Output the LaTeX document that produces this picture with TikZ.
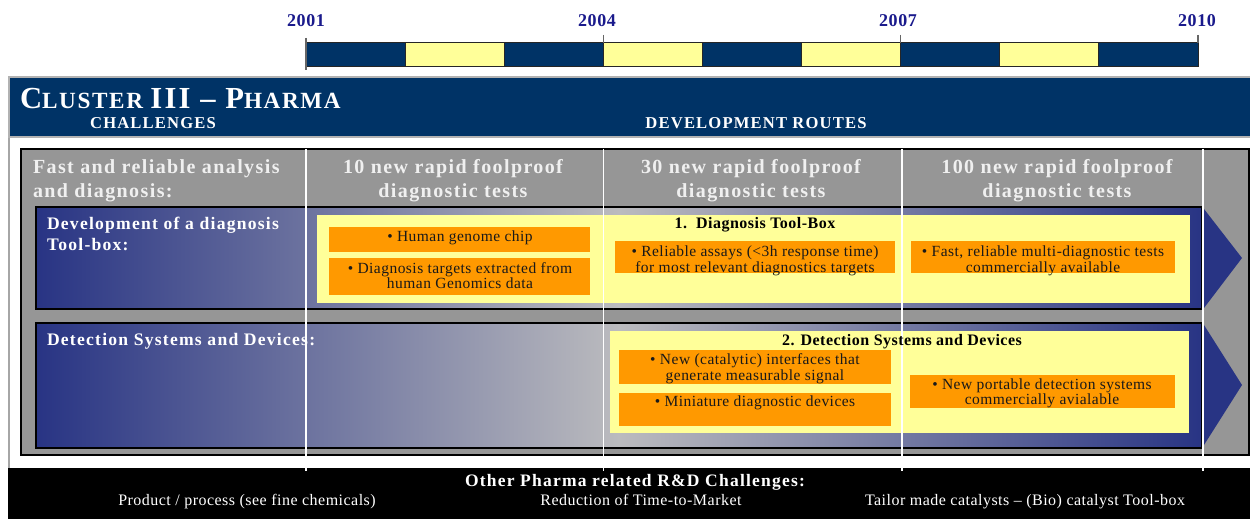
\documentclass[tikz,border=0pt]{standalone}
\usepackage{fontspec}
\setmainfont{Liberation Serif}
\newfontfamily\lsA{Liberation Serif}[LetterSpace=7]
\newfontfamily\lsB{Liberation Serif}[LetterSpace=3]
\definecolor{hdrnavy}{HTML}{003366}
\definecolor{rownavy}{HTML}{283484}
\definecolor{midgray}{HTML}{BBBBBE}
\definecolor{panelgray}{HTML}{969696}
\definecolor{yel}{HTML}{FFFF99}
\definecolor{org}{HTML}{FF9900}
\definecolor{yearblue}{HTML}{1A1A8C}
\definecolor{headtxt}{HTML}{F0F0F0}
\begin{document}
\begin{tikzpicture}[x=0.5pt,y=-0.5pt,
  txt/.style={inner sep=0pt, outer sep=0pt, anchor=base},
  yr/.style={txt, text=yearblue, font={\lsB\bfseries\fontsize{9}{11}\selectfont}},
  captxt/.style={txt, text=white, font={\lsA\bfseries\fontsize{8.3}{10}\selectfont}},
  hdr/.style={txt, text=headtxt, font={\lsA\bfseries\fontsize{10}{12}\selectfont}},
  rowlbl/.style={txt, text=white, font={\lsA\bfseries\fontsize{8.8}{10.5}\selectfont}},
  ytitle/.style={txt, text=black, font={\lsB\bfseries\fontsize{8}{10}\selectfont}},
  otxt/.style={txt, align=center, text=black!90, font={\lsB\fontsize{7.75}{7.9}\selectfont}},
  btxt/.style={txt, text=white, font={\lsB\fontsize{8}{10}\selectfont}},
  seg/.style={draw=black!85, line width=0.5pt},
  obox/.style={fill=org},
  vline/.style={white, line width=0.6pt},
  tickline/.style={draw=black!60, line width=0.6pt}
]
\useasboundingbox (0,0) rectangle (1250,519);
\fill[white] (0,0) rectangle (1250,519);

% ---- timeline bar ----
\filldraw[seg, fill=hdrnavy] (306,43) rectangle (405.1,67);
\filldraw[seg, fill=yel] (405.1,43) rectangle (504.2,67);
\filldraw[seg, fill=hdrnavy] (504.2,43) rectangle (603.3,67);
\filldraw[seg, fill=yel] (603.3,43) rectangle (702.4,67);
\filldraw[seg, fill=hdrnavy] (702.4,43) rectangle (801.6,67);
\filldraw[seg, fill=yel] (801.6,43) rectangle (900.7,67);
\filldraw[seg, fill=hdrnavy] (900.7,43) rectangle (999.8,67);
\filldraw[seg, fill=yel] (999.8,43) rectangle (1098.9,67);
\filldraw[seg, fill=hdrnavy] (1098.9,43) rectangle (1198,67);
\draw[tickline] (306,38) -- (306,70);
\draw[tickline] (603.3,35) -- (603.3,43);
\draw[tickline] (900.7,35) -- (900.7,43);
\draw[tickline] (1198,35) -- (1198,43);
\node[yr] (y2001) at (306,27) {2001};
\node[yr] (y2004) at (597,27) {2004};
\node[yr] (y2007) at (898,27) {2007};
\node[yr] (y2010) at (1197,27) {2010};

% ---- outer frame and header ----
\draw[gray!70, line width=1pt] (9,77) -- (9,468);
\filldraw[fill=hdrnavy, draw=gray!60, line width=0.6pt] (9,77) rectangle (1251,137);
\node[txt, anchor=base west, text=white, font={\lsA\bfseries}] (title) at (20,109)
  {\fontsize{15.3}{18}\selectfont C\fontsize{11.6}{14}\selectfont LUSTER \fontsize{15.3}{18}\selectfont III – P\fontsize{11.6}{14}\selectfont HARMA};
\node[captxt] (chal) at (153,129) {CHALLENGES};
\node[captxt] (routes) at (756,129) {DEVELOPMENT ROUTES};

% ---- gray panel ----
\filldraw[fill=panelgray, draw=black, line width=0.6pt] (21,149) rectangle (1249,455);

% ---- rows ----
\draw[black, line width=0.6pt, left color=rownavy, right color=rownavy, middle color=midgray] (36,207) rectangle (1202,309);
\draw[black, line width=0.6pt, left color=rownavy, right color=rownavy, middle color=midgray] (36,323) rectangle (1202,448);
\fill[rownavy] (1204,209) -- (1242,258) -- (1204,308) -- cycle;
\fill[rownavy] (1204,325) -- (1242,385) -- (1204,445) -- cycle;

% ---- yellow areas ----
\fill[yel] (317,215) rectangle (1190,303);
\fill[yel] (610,331) rectangle (1189,433);

% ---- orange boxes ----
\fill[obox] (329,227) rectangle (590,252);
\fill[obox] (329,258) rectangle (590,295);
\fill[obox] (615,241) rectangle (895,273);
\fill[obox] (911,241) rectangle (1175,273);
\fill[obox] (619,350) rectangle (891,384);
\fill[obox] (619,393) rectangle (891,426);
\fill[obox] (910,375) rectangle (1175,408);

% ---- black bottom bar ----
\fill[black] (8,468) rectangle (1250,519);

% ---- white year lines ----
\draw[vline] (306,149) -- (306,471);
\draw[vline] (603.3,149) -- (603.3,471);
\draw[vline] (902,149) -- (902,471);
\draw[vline] (1203,149) -- (1203,471);

% ---- header row texts (base = last line) ----
\node[hdr, anchor=base west, align=left] (fast) at (33,198) {Fast and reliable analysis\\and diagnosis:};
\node[hdr, align=center] (h10) at (453,198) {10 new rapid foolproof\\diagnostic tests};
\node[hdr, align=center] (h30) at (751,198) {30 new rapid foolproof\\diagnostic tests};
\node[hdr, align=center] (h100) at (1057,198) {100 new rapid foolproof\\diagnostic tests};

% ---- row labels ----
\node[rowlbl, anchor=base west, align=left] (dev) at (47,251) {Development of a diagnosis\\Tool-box:};
\node[rowlbl, anchor=base west] (det) at (47,346) {Detection Systems and Devices:};

% ---- yellow titles ----
\node[ytitle] (t1) at (755,229) {1.\ \ Diagnosis Tool-Box};
\node[ytitle] (t2) at (902,345) {2. Detection Systems and Devices};

% ---- orange texts ----
\node[otxt] (o1) at (460,242) {\textbullet\ Human genome chip};
\node[otxt] (o2) at (460,289) {\textbullet\ Diagnosis targets extracted from\\human Genomics data};
\node[otxt] (o3) at (755,272) {\textbullet\ Reliable assays (<3h response time)\\for most relevant diagnostics targets};
\node[otxt] (o4) at (1043,272) {\textbullet\ Fast, reliable multi-diagnostic tests\\commercially available};
\node[otxt] (o5) at (755,380) {\textbullet\ New (catalytic) interfaces that\\generate measurable signal};
\node[otxt] (o6) at (755,407) {\textbullet\ Miniature diagnostic devices};
\node[otxt] (o7) at (1042,405) {\textbullet\ New portable detection systems\\commercially avialable};

% ---- bottom texts ----
\node[txt, text=white, font={\lsA\bfseries\fontsize{8.75}{10}\selectfont}] (other) at (635,487) {Other Pharma related R\&D Challenges:};
\node[btxt] (b1) at (247,505) {Product / process (see fine chemicals)};
\node[btxt] (b2) at (641,505) {Reduction of Time-to-Market};
\node[btxt] (b3) at (1025,505) {Tailor made catalysts – (Bio) catalyst Tool-box};
\end{tikzpicture}
\end{document}
